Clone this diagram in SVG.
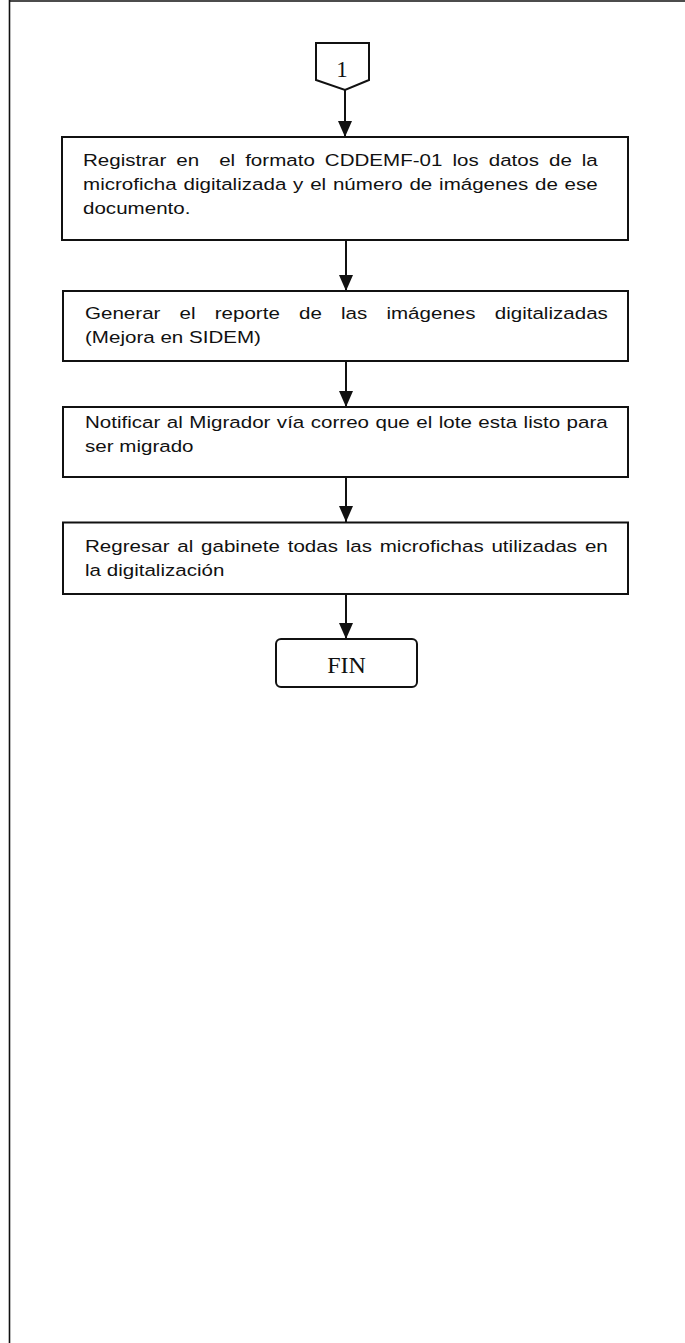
<svg xmlns="http://www.w3.org/2000/svg" width="685" height="1343" viewBox="0 0 685 1343">
<style>
.box{fill:#fff;stroke:#111;stroke-width:2}
.frame{fill:none;stroke:#111;stroke-width:1.6}
.conn{fill:none;stroke:#111;stroke-width:2}
.t{font-family:"Liberation Sans",Arial,sans-serif;font-size:17px;fill:#111;white-space:pre}
.s{font-family:"Liberation Serif","Times New Roman",serif;fill:#111}
</style>
<defs>
<marker id="ah" markerUnits="userSpaceOnUse" markerWidth="16" markerHeight="14" refX="16" refY="7" orient="auto" viewBox="0 0 16 14">
<polygon points="0,0 16,7 0,14" fill="#111"/>
</marker>
</defs>
<rect width="685" height="1343" fill="#fff"/>
<g id="frame">
<line class="frame" x1="9.5" y1="1" x2="685" y2="1"/>
<line class="frame" x1="9.5" y1="0" x2="9.5" y2="1343"/>
</g>
<g id="connectors">
<line class="conn" x1="345" y1="90" x2="345" y2="137" marker-end="url(#ah)"/>
<line class="conn" x1="346" y1="240" x2="346" y2="291" marker-end="url(#ah)"/>
<line class="conn" x1="346" y1="361" x2="346" y2="407" marker-end="url(#ah)"/>
<line class="conn" x1="346" y1="477" x2="346" y2="522" marker-end="url(#ah)"/>
<line class="conn" x1="346" y1="594" x2="346" y2="639" marker-end="url(#ah)"/>
</g>
<g id="n0">
<polygon class="box" points="316,43 369,43 369,80 345,90 316,80"/>
<text class="s" x="342" y="77" font-size="23" text-anchor="middle">1</text>
</g>
<g id="n1">
<rect class="box" x="62" y="137" width="566" height="103"/>
<text class="t" transform="translate(83,165.5) scale(1.21,1)" word-spacing="3.52">Registrar en  el formato CDDEMF-01 los datos de la</text>
<text class="t" transform="translate(83,189.5) scale(1.21,1)" word-spacing="0.88">microficha digitalizada y el número de imágenes de ese</text>
<text class="t" transform="translate(83,213.5) scale(1.21,1)">documento.</text>
</g>
<g id="n2">
<rect class="box" x="63" y="291" width="565" height="70"/>
<text class="t" transform="translate(85,319) scale(1.21,1)" word-spacing="11.1">Generar el reporte de las imágenes digitalizadas</text>
<text class="t" transform="translate(85,343) scale(1.21,1)">(Mejora en SIDEM)</text>
</g>
<g id="n3">
<rect class="box" x="63" y="407" width="565" height="70"/>
<text class="t" transform="translate(85,427.5) scale(1.21,1)" word-spacing="0.61">Notificar al Migrador vía correo que el lote esta listo para</text>
<text class="t" transform="translate(85,451.5) scale(1.21,1)">ser migrado</text>
</g>
<g id="n4">
<rect class="box" x="63" y="522.5" width="565" height="71.5"/>
<text class="t" transform="translate(85,552) scale(1.21,1)" word-spacing="1.68">Regresar al gabinete todas las microfichas utilizadas en</text>
<text class="t" transform="translate(85,576) scale(1.21,1)">la digitalización</text>
</g>
<g id="n5">
<rect class="box" x="276" y="639" width="141" height="48" rx="5"/>
<text class="s" x="346.5" y="673" font-size="24" text-anchor="middle">FIN</text>
</g>
</svg>
